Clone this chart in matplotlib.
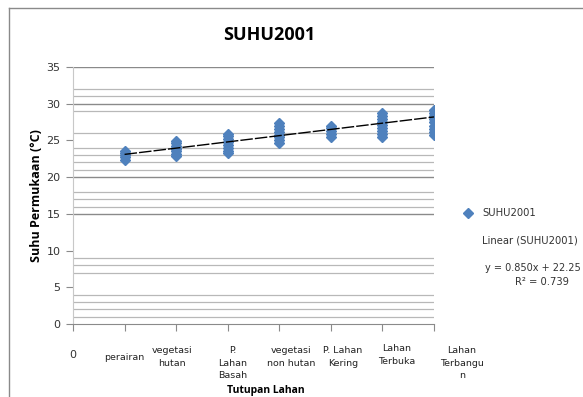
import matplotlib
matplotlib.use("Agg")
import matplotlib.pyplot as plt
import numpy as np
from matplotlib.lines import Line2D

# ---- data ----
categories = ["perairan", "vegetasi\nhutan", "P.\nLahan\nBasah", "vegetasi\nnon hutan",
              "P. Lahan\nKering", "Lahan\nTerbuka", "Lahan\nTerbangu\nn"]
cat_x = [1, 2, 3, 4, 5, 6, 7]
suhu_values = [
    [22.4, 22.7, 23.0, 23.3, 23.5],
    [22.9, 23.2, 23.5, 23.8, 24.0, 24.3, 24.6, 24.9],
    [23.3, 23.6, 24.0, 24.4, 24.8, 25.2, 25.6, 25.9],
    [24.6, 25.0, 25.4, 25.8, 26.2, 26.6, 27.0, 27.4],
    [25.4, 25.9, 26.3, 26.7, 27.0],
    [25.5, 25.9, 26.3, 26.7, 27.1, 27.5, 27.9, 28.3, 28.7],
    [25.7, 26.2, 26.6, 27.0, 27.5, 27.9, 28.3, 28.7, 29.1],
]
trend_slope = 0.850
trend_intercept = 22.25
r_squared = 0.739
y_ticks = [0, 5, 10, 15, 20, 25, 30, 35]
major_grid = [15, 20, 30, 35]
minor_grid = [1, 2, 3, 4, 7, 8, 9, 16, 17, 18, 21, 22, 23, 24, 26, 29, 31, 32]

# ---- layout ----
W, H = 583, 397
fig = plt.figure(figsize=(W / 100, H / 100), dpi=100)
ax = fig.add_axes([73 / W, 1 - 324 / H, 361 / W, 257 / H])

blue = "#4F81BD"
narrow = "Liberation Sans Narrow"
for g in minor_grid:
    ax.axhline(g, color="#B8B8B8", lw=0.9, zorder=1)
for g in major_grid:
    ax.axhline(g, color="#8A8A8A", lw=1.0, zorder=1)

xs = np.concatenate([[x] * len(v) for x, v in zip(cat_x, suhu_values)])
ys = np.concatenate(suhu_values)
ax.plot(xs, ys, linestyle="none", marker="D", ms=5.2, color=blue,
        markeredgecolor=blue, zorder=3)

tx = np.array([cat_x[0], cat_x[-1]], dtype=float)
ax.plot(tx, trend_slope * tx + trend_intercept, color="black", lw=1.0,
        linestyle=(0, (9, 1.5)), zorder=4)

ax.set_xlim(0, 7)
ax.set_ylim(0, 35)
ax.set_yticks(y_ticks)
ax.set_yticklabels([str(t) for t in y_ticks], fontsize=8, color="#333333", family=narrow)
ax.set_xticks(range(0, 8))
ax.set_xticklabels(["0"] + [""] * 7, fontsize=8, color="#333333", family=narrow)
ax.tick_params(axis="y", direction="out", length=5, color="#8A8A8A", pad=4)
ax.tick_params(axis="x", direction="out", length=5, color="#8A8A8A", pad=14)
for s in ["top", "right"]:
    ax.spines[s].set_visible(False)
ax.spines["left"].set_color("#C8C8C8")
ax.spines["bottom"].set_color("#8A8A8A")

# category labels
label_pos = [(124, 353), (172, 346), (233, 346), (291, 346), (343, 346), (397, 344), (462, 346)]
for lab, (px, py) in zip(categories, label_pos):
    fig.text(px / W, 1 - py / H, lab, ha="center", va="top", fontsize=6.8,
             family=narrow, color="#222222", linespacing=1.5)

fig.text(269 / W, 1 - 35 / H, "SUHU2001", ha="center", va="center",
         fontsize=13, fontweight="bold", family="Open Sans", color="black")
fig.text(37 / W, 1 - 196 / H, "Suhu Permukaan (°C)", rotation=90, ha="center",
         va="center", fontsize=9, fontweight="bold", family="Open Sans")
fig.text(266 / W, 1 - 391 / H, "Tutupan Lahan", ha="center", va="center",
         fontsize=7.5, fontweight="bold", family="Open Sans")

# legend
fig.add_artist(Line2D([468 / W], [1 - 213 / H], marker="D", ms=5.2, color=blue,
                      linestyle="none"))
fig.text(482 / W, 1 - 213 / H, "SUHU2001", ha="left", va="center", fontsize=7.2,
         family=narrow, color="#333333")
fig.text(482 / W, 1 - 240 / H, "Linear (SUHU2001)", ha="left", va="center",
         fontsize=7.2, family=narrow, color="#333333")
fig.text(581 / W, 1 - 268 / H, f"y = {trend_slope:.3f}x + {trend_intercept:.2f}",
         ha="right", va="center", fontsize=7.0, family=narrow, color="#333333")
fig.text(542 / W, 1 - 282 / H, f"R² = {r_squared:.3f}", ha="center", va="center",
         fontsize=7.2, family=narrow, color="#333333")

# outer frame
fig.add_artist(Line2D([9 / W, 9 / W], [0, 1 - 8 / H], color="#8A8A8A", lw=1))
fig.add_artist(Line2D([9 / W, 1], [1 - 8 / H, 1 - 8 / H], color="#8A8A8A", lw=1))

fig.savefig("out.png", dpi=100)
